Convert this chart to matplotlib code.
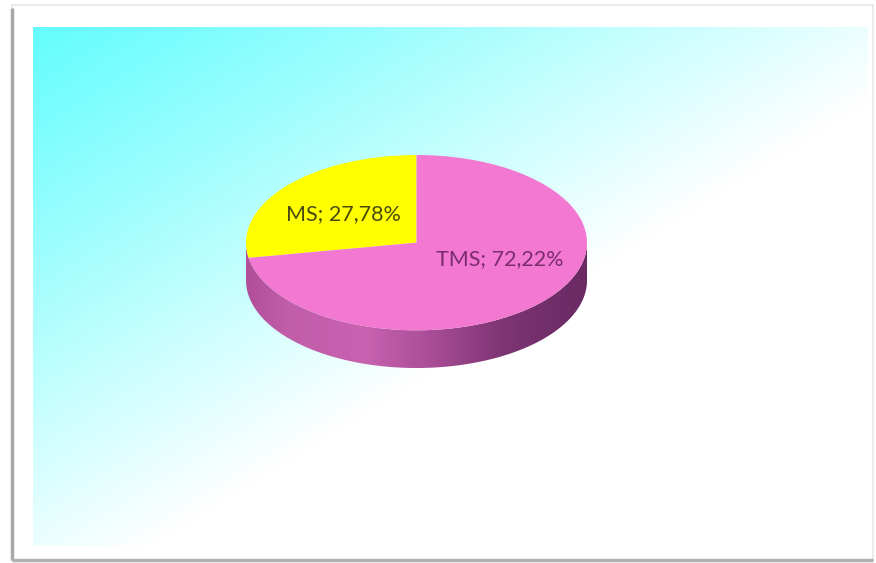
import numpy as np
import matplotlib
matplotlib.use("Agg")
import matplotlib.pyplot as plt
from matplotlib.patches import Polygon, Rectangle
from matplotlib.colors import LinearSegmentedColormap

# ---- data ----
categories = ["MS", "TMS"]
values = [27.78, 72.22]
labels = ["MS; 27,78%", "TMS; 72,22%"]
colors = ["#FFFF00", "#F278D2"]

W, H = 876, 563
fig = plt.figure(figsize=(W / 100, H / 100), dpi=100)
fig.patch.set_facecolor("white")

# ---- background axes in pixel coordinates ----
bg = fig.add_axes([0, 0, 1, 1], zorder=0)
bg.set_xlim(0, W)
bg.set_ylim(H, 0)
bg.axis("off")

# frame
bg.add_patch(Rectangle((12, 5), 861, 555, fill=False, edgecolor="#E6E6E6", lw=1.2, zorder=1))
bg.plot([12, 12], [8, 560], color="#A8A8A8", lw=2.5, zorder=2, solid_capstyle="butt")
bg.plot([12, 873], [560, 560], color="#B0B0B0", lw=2.5, zorder=2, solid_capstyle="butt")

# gradient plot area
x0, x1, y0, y1 = 33, 868, 27, 546
xs = np.linspace(x0, x1, 400)
ys = np.linspace(y0, y1, 300)
X, Y = np.meshgrid(xs, ys)
p = ((X - x0) * 446 + (Y - y0) * 718) / 424824.0
t = np.clip(p, 0, 1) ** 1.05
cyan = np.array([100, 253, 253]) / 255.0
white = np.array([1.0, 1.0, 1.0])
img = cyan[None, None, :] * (1 - t[..., None]) + white[None, None, :] * t[..., None]
bg.imshow(img, extent=[x0, x1, y1, y0], aspect="auto", zorder=0, interpolation="bilinear")

# ---- pie axes ----
cx_l, cx_r = 246, 587
top_y, bot_y = 155, 368
depth = 0.43  # in radius units (vertical)
pax = fig.add_axes([cx_l / W, 1 - bot_y / H, (cx_r - cx_l) / W, (bot_y - top_y) / H], zorder=1)
pax.patch.set_alpha(0)

# side of the cylinder
th = np.linspace(np.pi, 2 * np.pi, 200)
top_curve = np.column_stack([np.cos(th), np.sin(th)])
bot_curve = np.column_stack([np.cos(th[::-1]), np.sin(th[::-1]) - depth])
side = Polygon(np.vstack([top_curve, bot_curve]), closed=True, facecolor="none", edgecolor="none")
pax.add_patch(side)
side_cmap = LinearSegmentedColormap.from_list(
    "side",
    [(0.0, "#B24F98"), (0.12, "#C25DAA"), (0.35, "#C862B0"),
     (0.55, "#A84C95"), (0.75, "#7E3574"), (1.0, "#6A2A62")])
grad = np.linspace(0, 1, 256)[None, :]
im = pax.imshow(grad, extent=[-1, 1, -1 - depth, 0.05], cmap=side_cmap, aspect="auto", zorder=1)
im.set_clip_path(side)

# top face: pie
wedges, texts = pax.pie(values, colors=colors, startangle=90, counterclock=True,
                        radius=1.0, center=(0, 0), wedgeprops=dict(linewidth=0, zorder=2),
                        frame=True)
pax.set_aspect("auto")
pax.set_xlim(-1, 1)
pax.set_ylim(-1 - depth, 1)
pax.axis("off")

# ---- text overlay axes ----
tax = fig.add_axes([0, 0, 1, 1], zorder=2)
tax.set_xlim(0, W)
tax.set_ylim(H, 0)
tax.axis("off")
tax.patch.set_alpha(0)
txt = dict(fontsize=15.5, family="Lato", ha="center", va="center")
tax.text(343, 214, labels[0], color="#4A4A10", **txt)
tax.text(500, 259, labels[1], color="#7A2C6C", **txt)

fig.savefig("out.png", dpi=100)
